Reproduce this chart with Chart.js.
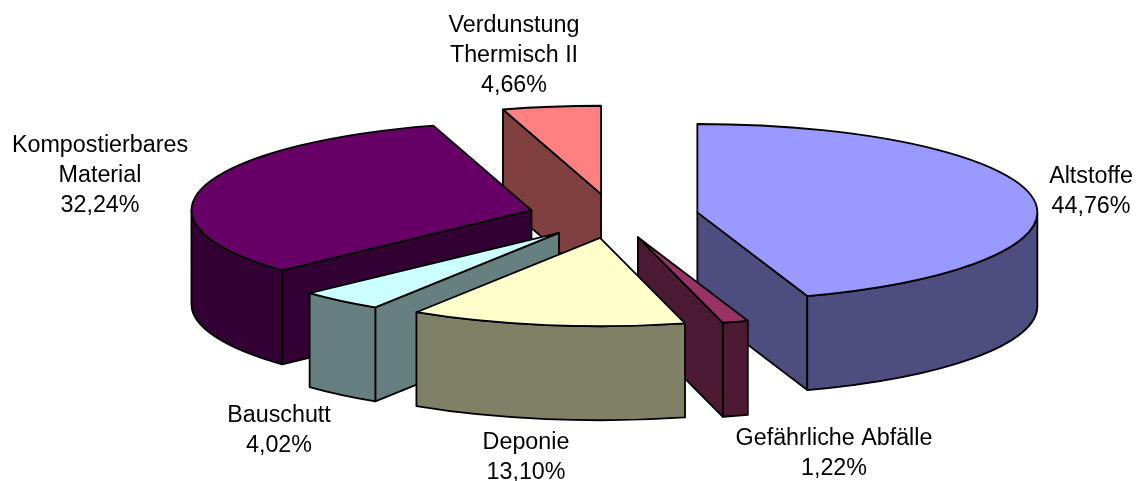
<!DOCTYPE html>
<html>
<head>
<meta charset="utf-8">
<style>html,body{margin:0;padding:0;background:#fff}canvas{display:block}</style>
<script src="https://cdn.jsdelivr.net/npm/chart.js@4"></script>
</head>
<body>
<canvas id="c" width="1141" height="481"></canvas>
<script>
const categories = [["Altstoffe"],["Gefährliche Abfälle"],["Deponie"],["Bauschutt"],["Kompostierbares","Material"],["Verdunstung","Thermisch II"]];
const shares = [44.76, 1.22, 13.10, 4.02, 32.24, 4.66];
const topColors = ["#9999FF","#993366","#FFFFCC","#CCFFFF","#660066","#FF8080"];
const wallColors = ["#4D4D80","#4D1A33","#808066","#668080","#330033","#804040"];
const labelAnchors = [[1091,183],[834,445],[526,449],[279,422],[100,152],[514,32]];

const SQUASH = 0.26, EXPLODE = 85, DEPTH = 94, FONT_PX = 23.3, LINE_H = 29.8;

const pie3d = {
  id: 'pie3d',
  beforeDatasetDraw(chart, args) {
    const ctx = chart.ctx;
    const arcs = args.meta.data;
    const order = arcs.map((a, i) => i).sort((p, q) =>
      Math.sin((arcs[p].startAngle + arcs[p].endAngle) / 2) -
      Math.sin((arcs[q].startAngle + arcs[q].endAngle) / 2));
    order.forEach(i => drawSlice(ctx, arcs[i], i));
    return false;
  },
  afterDraw(chart) {
    const ctx = chart.ctx;
    ctx.save();
    ctx.fillStyle = '#000';
    ctx.font = FONT_PX + 'px "Liberation Sans", Arial, sans-serif';
    ctx.textAlign = 'center';
    ctx.textBaseline = 'alphabetic';
    categories.forEach((lines, i) => {
      const text = lines.concat(shares[i].toFixed(2).replace('.', ',') + '%');
      text.forEach((t, k) => ctx.fillText(t, labelAnchors[i][0], labelAnchors[i][1] + k * LINE_H));
    });
    ctx.restore();
  }
};

function drawSlice(ctx, arc, i) {
  const mid = (arc.startAngle + arc.endAngle) / 2;
  const ox = arc.x + EXPLODE * Math.cos(mid);
  const oy = arc.y + SQUASH * EXPLODE * Math.sin(mid);
  const R = arc.outerRadius;
  const px = a => ox + R * Math.cos(a);
  const py = a => oy + SQUASH * R * Math.sin(a);
  ctx.save();
  ctx.lineWidth = 1.8;
  ctx.lineJoin = 'round';
  ctx.strokeStyle = '#000';
  ctx.fillStyle = wallColors[i];

  const radial = a => {
    ctx.beginPath();
    ctx.moveTo(ox, oy);
    ctx.lineTo(px(a), py(a));
    ctx.lineTo(px(a), py(a) + DEPTH);
    ctx.lineTo(ox, oy + DEPTH);
    ctx.closePath();
    ctx.fill();
    ctx.stroke();
  };
  if (Math.cos(arc.startAngle) < -1e-6) radial(arc.startAngle);
  if (Math.cos(arc.endAngle) > 1e-6) radial(arc.endAngle);

  // curved outer wall: only the part facing the viewer (screen angles 0..PI)
  const TAU = 2 * Math.PI;
  let s = arc.startAngle, e = arc.endAngle;
  while (s < 0) { s += TAU; e += TAU; }
  while (s >= TAU) { s -= TAU; e -= TAU; }
  if (s > Math.PI) { s -= TAU; e -= TAU; }
  const from = Math.max(s, 0), to = Math.min(e, Math.PI);
  if (to > from) {
    ctx.beginPath();
    ctx.save();
    ctx.translate(ox, oy);
    ctx.scale(1, SQUASH);
    ctx.arc(0, 0, R, from, to);
    ctx.restore();
    ctx.lineTo(px(to), py(to) + DEPTH);
    ctx.save();
    ctx.translate(ox, oy + DEPTH);
    ctx.scale(1, SQUASH);
    ctx.arc(0, 0, R, to, from, true);
    ctx.restore();
    ctx.closePath();
    ctx.fill();
    ctx.stroke();
  }

  // the library's own arc element paints the top face
  ctx.save();
  ctx.translate(0, arc.y);
  ctx.scale(1, SQUASH);
  ctx.translate(0, -arc.y);
  ctx.translate(EXPLODE * Math.cos(mid), EXPLODE * Math.sin(mid));
  arc.draw(ctx);
  ctx.restore();

  // uniform-width outline of the top face
  ctx.beginPath();
  ctx.moveTo(ox, oy);
  ctx.save();
  ctx.translate(ox, oy);
  ctx.scale(1, SQUASH);
  ctx.arc(0, 0, R, arc.startAngle, arc.endAngle);
  ctx.restore();
  ctx.closePath();
  ctx.stroke();
  ctx.restore();
}

new Chart(document.getElementById('c'), {
  type: 'pie',
  data: {
    labels: categories.map(l => l.join(' ')),
    datasets: [{ data: shares, backgroundColor: topColors, borderWidth: 0, clip: false }]
  },
  options: {
    responsive: false,
    animation: false,
    radius: 340,
    rotation: 0,
    layout: { padding: { left: 86, bottom: 49 } },
    plugins: { legend: { display: false }, tooltip: { enabled: false } }
  },
  plugins: [pie3d]
});
</script>
</body>
</html>
